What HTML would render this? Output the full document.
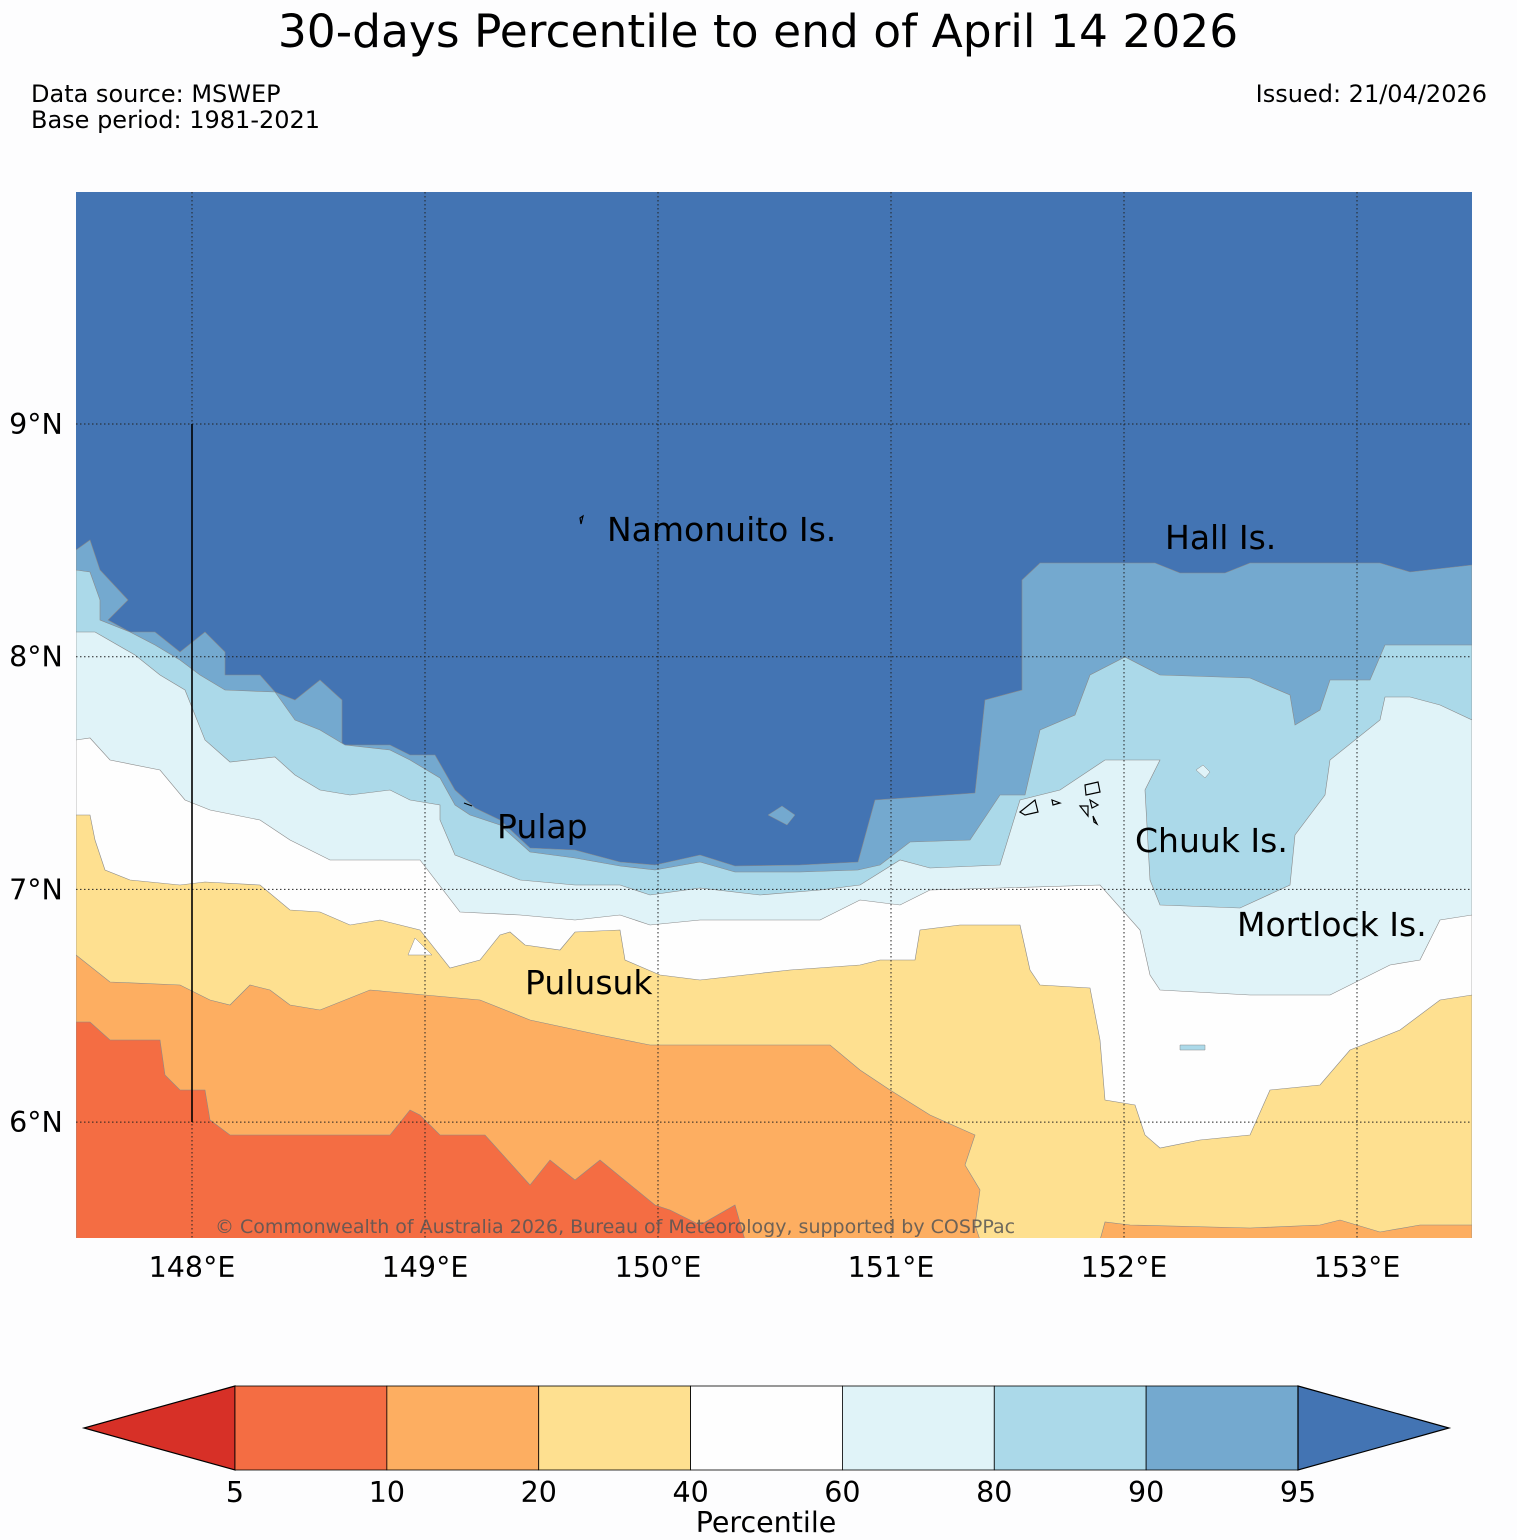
<!DOCTYPE html>
<html><head><meta charset="utf-8"><title>30-days Percentile</title>
<style>
html,body{margin:0;padding:0;background:#fdfdfe;}
svg{display:block;font-family:"DejaVu Sans","Liberation Sans",sans-serif;}
</style></head>
<body>
<svg id="chart" width="1517" height="1540" viewBox="0 0 1517 1540" xmlns="http://www.w3.org/2000/svg">
<rect width="1517" height="1540" fill="#fdfdfe"/>
<text x="758" y="47" font-size="45.5" text-anchor="middle">30-days Percentile to end of April 14 2026</text>
<text x="31" y="102" font-size="24">Data source: MSWEP</text>
<text x="31" y="128" font-size="24">Base period: 1981-2021</text>
<text x="1487" y="102" font-size="24" text-anchor="end">Issued: 21/04/2026</text>
<defs><clipPath id="mapclip"><rect x="76" y="192" width="1396" height="1046"/></clipPath></defs>
<g id="map" clip-path="url(#mapclip)"></g>
<g id="overlay"></g>
<g id="cbar"></g>
</svg>
<script>
// Colour levels (percentile bins)
const levels = [5, 10, 20, 40, 60, 80, 90, 95];
const binColors = ["#d73027","#f46d43","#fdae61","#fee090","#fefefe","#e0f3f8","#abd9e9","#74a9cf","#4374b3"];
const lonTicks = [148, 149, 150, 151, 152, 153];
const latTicks = [9, 8, 7, 6];
const lonLabels = ["148°E","149°E","150°E","151°E","152°E","153°E"];
const latLabels = ["9°N","8°N","7°N","6°N"];
// Contour traces: top edges of each percentile region (map-space units), from west to east
const contour90 = [[76,550],[90,540],[100,570],[128,600],[108,620],[130,632],[155,632],[180,652],[205,632],[225,652],[225,675],[260,675],[275,692],[295,700],[320,680],[342,700],[342,745],[390,745],[410,755],[435,755],[455,790],[475,808],[500,820],[530,848],[575,850],[620,862],[655,865],[700,855],[735,866],[800,865],[858,862],[875,800],[975,793],[985,700],[1022,690],[1022,580],[1040,563],[1155,563],[1180,573],[1225,573],[1250,563],[1380,563],[1410,572],[1472,565]];
const contour80 = [[76,570],[90,572],[100,600],[100,620],[130,632],[155,645],[180,660],[200,675],[225,690],[275,692],[295,720],[320,730],[345,745],[390,750],[410,760],[440,778],[455,805],[470,815],[500,825],[530,852],[575,858],[620,866],[655,870],[700,862],[735,872],[800,872],[858,870],[880,865],[910,842],[970,840],[1000,795],[1025,795],[1040,730],[1075,715],[1090,675],[1125,657],[1160,675],[1250,678],[1290,695],[1295,725],[1320,710],[1330,680],[1370,680],[1385,645],[1472,645]];
const contour60 = [[76,632],[95,632],[135,655],[160,675],[185,690],[205,740],[230,762],[275,757],[295,775],[320,790],[350,795],[390,790],[410,800],[440,805],[440,820],[455,855],[520,880],[575,885],[620,885],[650,895],[700,888],[760,895],[820,890],[860,885],[900,860],[930,868],[1000,865],[1020,800],[1060,790],[1105,760],[1160,760],[1145,790],[1150,880],[1160,905],[1240,908],[1290,885],[1295,835],[1325,795],[1330,760],[1380,720],[1385,697],[1410,697],[1440,705],[1472,720]];
const contour40 = [[76,740],[90,738],[110,760],[160,770],[185,800],[210,810],[260,820],[290,840],[330,860],[420,860],[460,912],[520,915],[575,920],[620,915],[650,925],[700,920],[820,920],[860,900],[900,905],[930,890],[1000,888],[1100,885],[1140,930],[1150,975],[1160,990],[1250,995],[1330,995],[1390,965],[1420,960],[1440,920],[1472,915]];
const contour20 = [[76,815],[90,815],[95,840],[105,870],[130,880],[180,885],[205,882],[260,885],[290,910],[320,912],[350,925],[380,920],[420,930],[450,968],[480,960],[500,935],[510,932],[525,945],[560,950],[575,932],[620,930],[625,960],[660,975],[700,980],[790,970],[860,965],[880,960],[915,960],[920,930],[960,925],[1020,925],[1030,970],[1040,985],[1090,988],[1100,1040],[1105,1100],[1135,1105],[1145,1135],[1160,1148],[1200,1140],[1250,1135],[1270,1090],[1320,1085],[1350,1050],[1400,1030],[1440,1000],[1472,995]];
const contour10 = [[76,955],[110,982],[180,985],[210,1000],[230,1005],[250,985],[270,990],[290,1005],[320,1010],[370,990],[480,1000],[530,1020],[600,1035],[650,1045],[830,1045],[860,1070],[890,1090],[930,1115],[975,1135],[965,1165],[980,1190],[975,1225],[980,1240],[1100,1240],[1105,1222],[1130,1225],[1250,1228],[1320,1225],[1340,1220],[1380,1232],[1420,1225],[1472,1225]];
const contour5 = [[76,1022],[90,1022],[110,1040],[160,1040],[165,1075],[180,1090],[205,1090],[210,1120],[230,1135],[390,1135],[410,1110],[420,1115],[440,1135],[485,1135],[530,1185],[550,1160],[575,1180],[600,1160],[655,1205],[670,1210],[700,1225],[735,1205],[745,1240],[1472,1240]];

const NS = "http://www.w3.org/2000/svg";
function xLon(lon){ return 192 + (lon - 148) * 233; }
function yLat(lat){ return 424 + (9 - lat) * 232.7; }
function el(tag, attrs, parent){ const e = document.createElementNS(NS, tag); for (const k in attrs) e.setAttribute(k, attrs[k]); parent.appendChild(e); return e; }

const map = document.getElementById('map');
const bg = el('rect', {x:76, y:192, width:1396, height:1046, fill:binColors[8]}, map);


const layers = [[contour90,7,'region-90-95'],[contour80,6,'region-80-90'],[contour60,5,'region-60-80'],[contour40,4,'region-40-60'],[contour20,3,'region-20-40'],[contour10,2,'region-10-20'],[contour5,1,'region-5-10']];
for (const [pts, ci, nm] of layers) {
  const p = pts.map(q => q[0] + ',' + q[1]).join(' ') + ' 1472,1240 76,1240';
  const poly = el('polygon', {points:p, fill:binColors[ci], stroke:'#8a8a8a', 'stroke-width':0.6}, map);
  
  
}
const patch1 = el('polygon', {points:'768,815 782,806 795,815 787,825', fill:binColors[7], stroke:'#8a8a8a','stroke-width':0.5}, map);


const patch2 = el('polygon', {points:'408,955 415,938 432,955', fill:binColors[4], stroke:'#8a8a8a','stroke-width':0.5}, map);


const patch3 = el('polygon', {points:'1180,1045 1205,1045 1205,1050 1180,1050', fill:binColors[6], stroke:'#8a8a8a','stroke-width':0.5}, map);


const patch4 = el('polygon', {points:'1196,770 1203,765 1210,772 1205,778', fill:binColors[5], stroke:'#8a8a8a','stroke-width':0.5}, map);



const ov = document.getElementById('overlay');
lonTicks.forEach((lon, i) => {
  const x = xLon(lon);
  const g = el('line', {x1:x, x2:x, y1:192, y2:1238, stroke:'#222', 'stroke-width':1, 'stroke-dasharray':'1.5,2.5'}, ov);
  
  
  const t = el('text', {x:x, y:1277, 'font-size':28.5, 'text-anchor':'middle'}, ov);
  t.textContent = lonLabels[i];
  
  
});
latTicks.forEach((lat, i) => {
  const y = yLat(lat);
  const g = el('line', {x1:76, x2:1472, y1:y, y2:y, stroke:'#222', 'stroke-width':1, 'stroke-dasharray':'1.5,2.5'}, ov);
  
  
  const t = el('text', {x:36, y:y+10, 'font-size':28.5, 'text-anchor':'middle'}, ov);
  t.textContent = latLabels[i];
  
  
});
const vline = el('line', {x1:192, x2:192, y1:424, y2:1122, stroke:'#000', 'stroke-width':1.6}, ov);


const isl = el('path', {d:'M1085,785 L1098,782 L1100,792 L1086,795 Z M1080,806 L1088,806 L1088,816 Z M1090,800 L1098,805 L1092,808 Z M1093,816 L1097,824 L1094,822 Z M1020,812 L1035,800 L1038,812 L1025,815 Z M1052,800 L1060,803 L1053,805 Z M580,518 L583,516 L581,524 Z M464,803 L472,806',
  fill:'none', stroke:'#000', 'stroke-width':1.2}, ov);


const places = [["Namonuito Is.",607,541],["Hall Is.",1165,549],["Pulap",497,838],["Chuuk Is.",1135,852],["Mortlock Is.",1237,936],["Pulusuk",525,994]];
for (const [n,x,y] of places) {
  const t = el('text', {x:x, y:y, 'font-size':33}, ov);
  t.textContent = n;
  
  
}
const cp = el('text', {x:215, y:1233, 'font-size':19, fill:'#555', 'fill-opacity':0.85}, ov);
cp.textContent = "© Commonwealth of Australia 2026, Bureau of Meteorology, supported by COSPPac";



const cb = document.getElementById('cbar');
const cbx0 = 235, cbx1 = 1298, cby0 = 1386, cby1 = 1470;
const segW = (cbx1 - cbx0) / (levels.length - 1);
function cbX(i){ return cbx0 + i * segW; }
const lt = el('polygon', {points:`${cbx0},${cby0} 84,1428 ${cbx0},${cby1}`, fill:binColors[0], stroke:'#000','stroke-width':1.2}, cb);


for (let i = 0; i < levels.length - 1; i++) {
  const r = el('rect', {x:cbX(i), y:cby0, width:segW, height:cby1-cby0, fill:binColors[i+1], stroke:'#000','stroke-width':0.8}, cb);
  
  
}
const rt = el('polygon', {points:`${cbx1},${cby0} 1449,1428 ${cbx1},${cby1}`, fill:binColors[8], stroke:'#000','stroke-width':1.2}, cb);


levels.forEach((v, i) => {
  const t = el('text', {x:cbX(i), y:1502, 'font-size':28.5, 'text-anchor':'middle'}, cb);
  t.textContent = v;
  
  
});
const cbt = el('text', {x:766, y:1532, 'font-size':28.5, 'text-anchor':'middle'}, cb);
cbt.textContent = "Percentile";


</script>
</body></html>
